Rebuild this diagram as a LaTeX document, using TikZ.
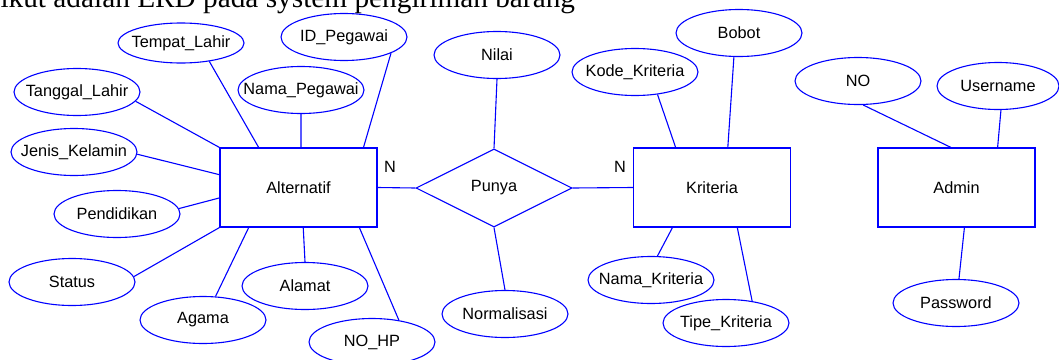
\documentclass[tikz,border=0pt]{standalone}
\usepackage{fontspec}
\setmainfont{Liberation Sans}
\newfontfamily\serifhead{Liberation Serif}
\usetikzlibrary{shapes.geometric,calc}
\newcommand{\lbl}[1]{\makebox[0pt][c]{#1}}
\begin{document}
\begin{tikzpicture}[x=1pt,y=-1pt,line width=1.1pt,
  attr/.style={ellipse,draw=blue,minimum width=126pt,minimum height=47pt,inner sep=0pt,font=\fontsize{16.3}{18}\selectfont},
  ent/.style={rectangle,draw=blue,minimum width=157pt,minimum height=79pt,inner sep=0pt,font=\fontsize{16.3}{18}\selectfont},
  rel/.style={diamond,draw=blue,minimum width=156pt,minimum height=78pt,inner sep=0pt,aspect=2,font=\fontsize{16.3}{18}\selectfont},
  card/.style={inner sep=0pt,font=\fontsize{16.3}{18}\selectfont},
  conn/.style={draw=blue}]
\useasboundingbox (0,0) rectangle (1059,359);
\clip (0,0) rectangle (1059,359);
% header
\node[anchor=base west,inner sep=0pt,font=\serifhead\fontsize{29.3}{32}\selectfont] (head) at (0,7.5) {ikut adalah ERD pada system pengiriman barang};
% entities
\node[ent] (alt) at (298.5,187.5) {Alternatif};
\node[ent] (krit) at (712,187.5) {Kriteria};
\node[ent] (adm) at (956.5,187.5) {Admin};
\node[rel] (punya) at (494,188) {Punya};
% attributes of Alternatif
\node[attr,minimum height=40pt] (tl) at (181,43) {\lbl{Tempat\_Lahir}};
\node[attr] (idp) at (344,37) {\lbl{ID\_Pegawai}};
\node[attr] (tgl) at (77,92) {\lbl{Tanggal\_Lahir}};
\node[attr] (nmp) at (301,90) {\lbl{Nama\_Pegawai}};
\node[attr] (jk) at (74,152) {\lbl{Jenis\_Kelamin}};
\node[attr] (pend) at (117,214) {\lbl{Pendidikan}};
\node[attr] (stat) at (72,282) {\lbl{Status}};
\node[attr] (agm) at (203,320) {\lbl{Agama}};
\node[attr] (alm) at (305,286) {\lbl{Alamat}};
\node[attr] (nohp) at (372,342) {\lbl{NO\_HP}};
% relationship attributes
\node[attr] (nilai) at (497,55) {\lbl{Nilai}};
\node[attr] (norm) at (505,314) {\lbl{Normalisasi}};
% attributes of Kriteria
\node[attr] (kode) at (635,72) {\lbl{Kode\_Kriteria}};
\node[attr] (bobot) at (739,33) {\lbl{Bobot}};
\node[attr] (nkrit) at (651,280) {\lbl{Nama\_Kriteria}};
\node[attr] (tipe) at (726,323) {\lbl{Tipe\_Kriteria}};
% attributes of Admin
\node[attr] (no) at (858,81) {\lbl{NO}};
\node[attr,minimum width=122pt] (user) at (998,86) {\lbl{Username}};
\node[attr] (pass) at (956,303) {\lbl{Password}};
% cardinalities
\node[card] (n1) at (390,167) {N};
\node[card] (n2) at (620,167) {N};
% connectors
\draw[conn] (tl.-33) -- ($(alt.north west)!0.248!(alt.north east)$);
\draw[conn] (idp.-19.5) -- ($(alt.north west)!0.911!(alt.north east)$);
\draw[conn] (nmp.south) -- ($(alt.north west)!0.516!(alt.north east)$);
\draw[conn] (tgl.-9) -- (alt.north west);
\draw[conn] (jk.-2) -- ($(alt.north west)!0.34!(alt.south west)$);
\draw[conn] (pend.5.5) -- ($(alt.north west)!0.63!(alt.south west)$);
\draw[conn] (stat.5.6) -- (alt.south west);
\draw[conn] (agm.62) -- ($(alt.south west)!0.185!(alt.south east)$);
\draw[conn] (alm.north) -- ($(alt.south west)!0.53!(alt.south east)$);
\draw[conn] (nohp.39) -- ($(alt.south west)!0.885!(alt.south east)$);
\draw[conn] (alt.east) -- (punya.west);
\draw[conn] (punya.east) -- (krit.west);
\draw[conn] (nilai.south) -- (punya.north);
\draw[conn] (punya.south) -- (norm.north);
\draw[conn] (kode.-45) -- ($(krit.north west)!0.27!(krit.north east)$);
\draw[conn] (bobot.-102) -- ($(krit.north west)!0.60!(krit.north east)$);
\draw[conn] (nkrit.75) -- ($(krit.south west)!0.25!(krit.south east)$);
\draw[conn] (tipe.40) -- ($(krit.south west)!0.66!(krit.south east)$);
\draw[conn] (no.-78) -- ($(adm.north west)!0.465!(adm.north east)$);
\draw[conn] (user.-83) -- ($(adm.north west)!0.76!(adm.north east)$);
\draw[conn] ($(adm.south west)!0.55!(adm.south east)$) -- (pass.83);
\end{tikzpicture}
\end{document}
